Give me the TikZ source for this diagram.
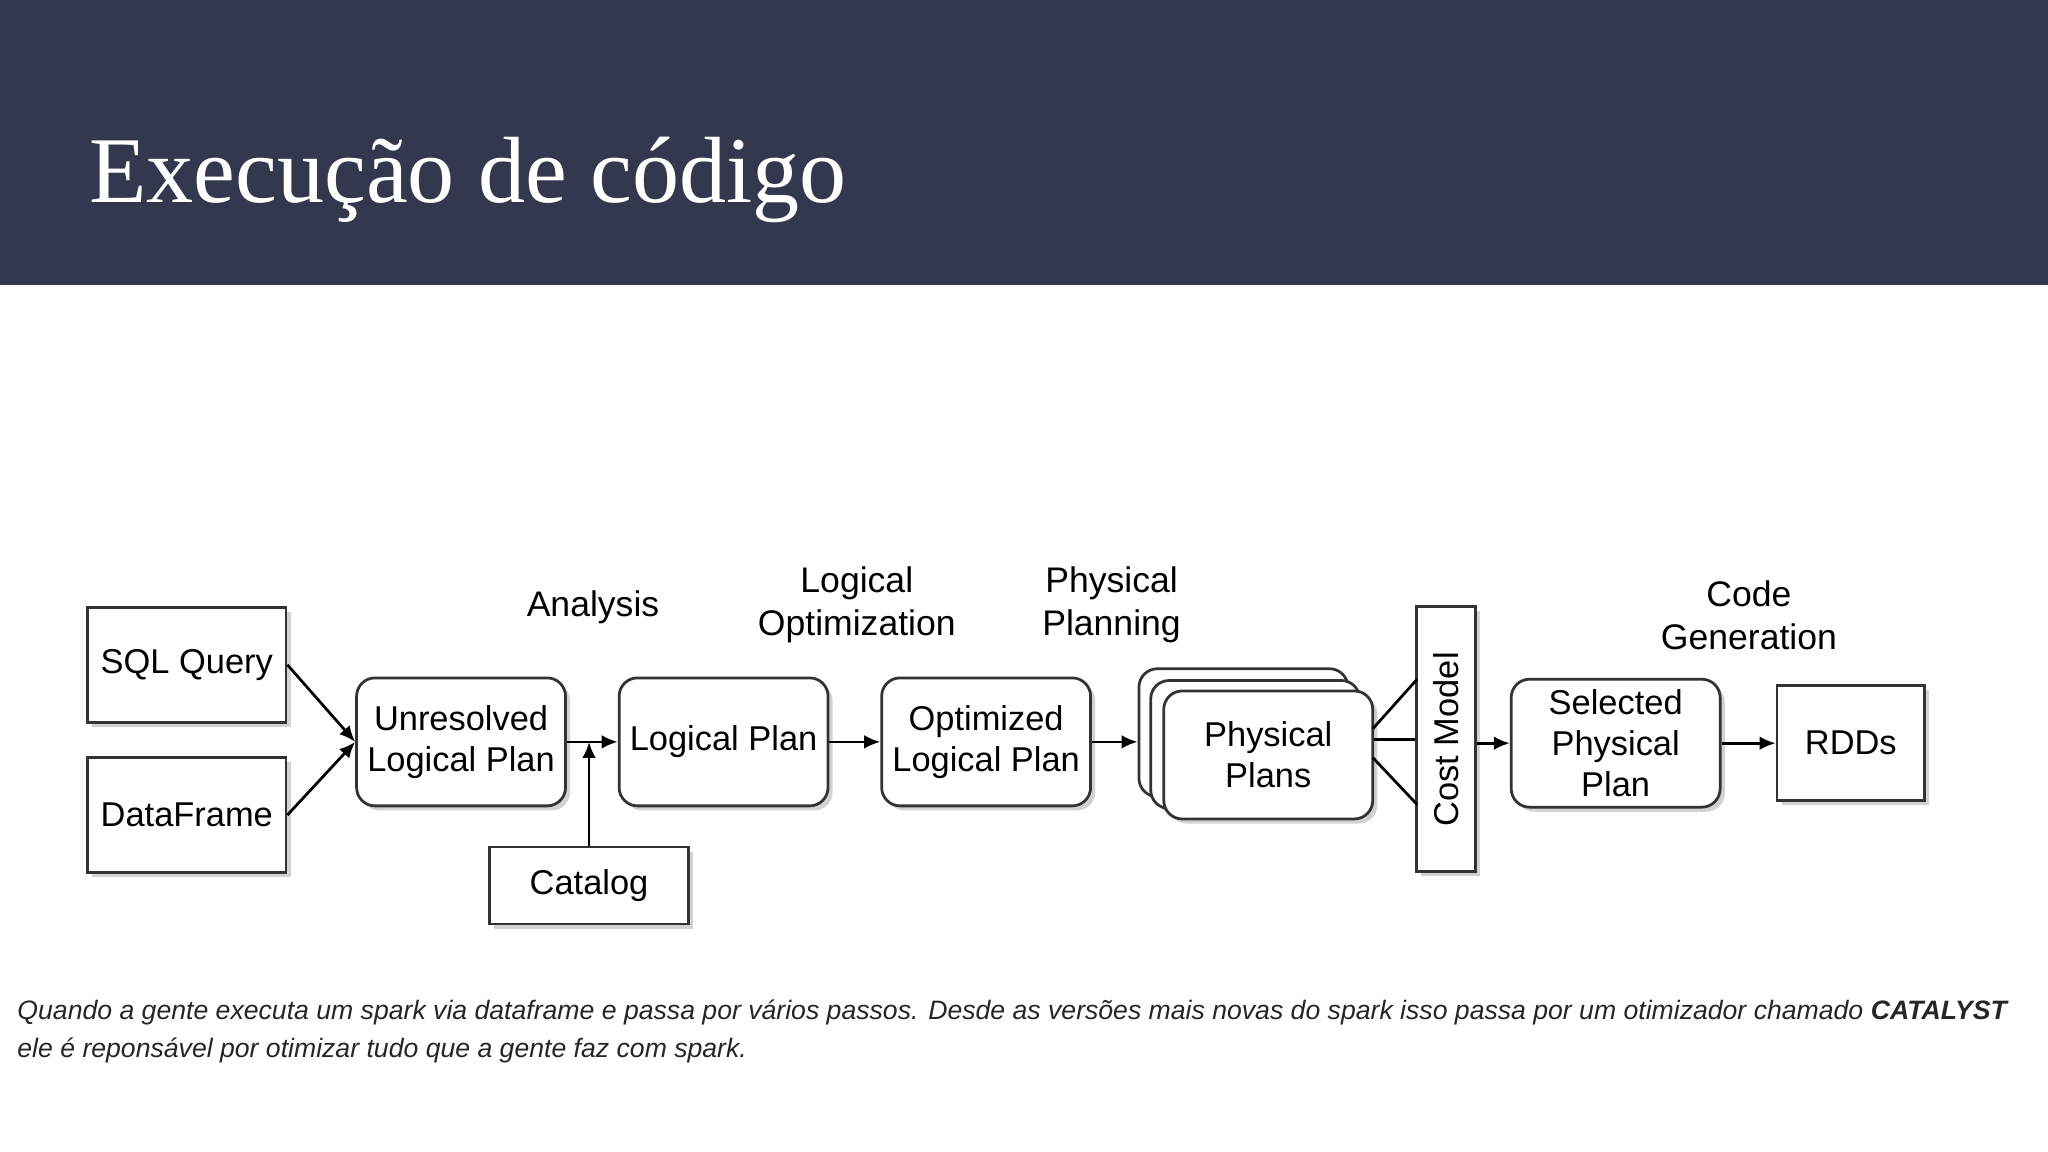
\documentclass[tikz,border=0pt]{standalone}
\usepackage{fontspec}
\setmainfont{Liberation Sans}
\newfontfamily\titlefont{Liberation Serif}
\usetikzlibrary{shadows,arrows.meta}
\begin{document}
\begin{tikzpicture}[x=0.02cm,y=-0.02cm,
  box/.style={draw=black!80,line width=1.2pt,fill=white,align=center,inner sep=0pt,font=\fontsize{15}{18}\selectfont,
     drop shadow={shadow xshift=2pt,shadow yshift=-2pt,fill=black!35}},
  rbox/.style={box,rounded corners=8pt},
  lab/.style={align=center,font=\fontsize{15.5}{19}\selectfont},
  arr/.style={-{Latex[length=7pt,width=6pt]},line width=1.2pt},
  ln/.style={line width=1.2pt}]
\useasboundingbox (0,0) rectangle (1568,882);
\fill[white] (0,0) rectangle (1568,882);
\fill[fill={rgb,255:red,52;green,56;blue,78}] (0,0) rectangle (1568,218);
\node[anchor=west,inner sep=0pt,text=white,font=\titlefont\fontsize{41}{48}\selectfont] (title) at (68,138) {Execução de código};

\node[box,minimum width=3.04cm,minimum height=1.76cm] (sql) at (143,509) {SQL Query};
\node[box,minimum width=3.04cm,minimum height=1.76cm] (df) at (143,624) {DataFrame};
\node[rbox,minimum width=3.2cm,minimum height=1.96cm] (unres) at (353,568) {Unresolved\\Logical Plan};
\node[rbox,minimum width=3.2cm,minimum height=1.96cm] (lp) at (554,568) {Logical Plan};
\node[rbox,minimum width=3.2cm,minimum height=1.96cm] (olp) at (755,568) {Optimized\\Logical Plan};
\node[rbox,minimum width=3.2cm,minimum height=1.96cm] (pp2) at (952,561) {};
\node[rbox,minimum width=3.2cm,minimum height=1.96cm] (pp1) at (961,570) {};
\node[rbox,minimum width=3.2cm,minimum height=1.96cm] (pp) at (971,578) {Physical\\Plans};
\node[box,minimum width=0.9cm,minimum height=4.06cm] (cost) at (1107,566) {\rotatebox{90}{Cost Model}};
\node[rbox,minimum width=3.2cm,minimum height=1.96cm] (sel) at (1237,569) {Selected\\Physical\\Plan};
\node[box,minimum width=2.26cm,minimum height=1.76cm] (rdd) at (1417,569) {RDDs};
\node[box,minimum width=3.04cm,minimum height=1.18cm] (cat) at (451,678) {Catalog};

\node[lab] (l1) at (454,465) {Analysis};
\node[lab] (l2) at (656,463) {Logical\\Optimization};
\node[lab] (l3) at (851,463) {Physical\\Planning};
\node[lab] (l4) at (1339,471) {Code\\Generation};

\coordinate (m) at (451,568);
\draw[arr] (sql.east) -- (unres.west);
\draw[arr] (df.east) -- (unres.west);
\draw[arr] (unres.east) -- (lp.west);
\draw[arr] (lp.east) -- (olp.west);
\draw[arr] (cat.north) -- (m);
\draw[arr] (olp.east) -- (olp.east-|pp2.west);
\draw[ln] (pp.east|-cost) -- (cost.west);
\draw[ln] (1051,558) -- (1085,520);
\draw[ln] (1051,580) -- (1085,616);
\draw[arr] (cost.east|-sel) -- (sel.west);
\draw[arr] (sel.east) -- (rdd.west);

\node[anchor=west,inner sep=0pt,font=\itshape\fontsize{11.6}{14}\selectfont,text=black!85] (c1) at (13,775) {Quando a gente executa um spark via dataframe e passa por vários passos. Desde as versões mais novas do spark isso passa por um otimizador chamado \textbf{CATALYST}};
\node[anchor=west,inner sep=0pt,font=\itshape\fontsize{11.6}{14}\selectfont,text=black!85] (c2) at (13,804) {ele é reponsável por otimizar tudo que a gente faz com spark.};
\end{tikzpicture}
\end{document}
